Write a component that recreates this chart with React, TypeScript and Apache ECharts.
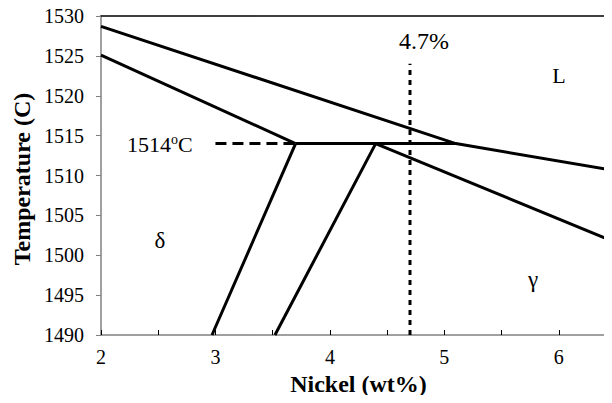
import React, { useEffect, useRef } from "react";
import * as echarts from "echarts";

// Phase boundary lines: [Nickel wt%, Temperature C]
const liquidusL: [number, number][] = [[2, 1528.7], [5.1, 1514], [6.5, 1510.6]];
const deltaLiquidus: [number, number][] = [[2, 1525.1], [3.7, 1514]];
const peritectic: [number, number][] = [[3.7, 1514], [5.1, 1514]];
const deltaSolvus: [number, number][] = [[2.97, 1490], [3.7, 1514]];
const gammaSolvus: [number, number][] = [[3.52, 1490], [4.4, 1514]];
const gammaSolidus: [number, number][] = [[4.4, 1514], [6.5, 1501.6]];
const tempGuide: [number, number][] = [[3.0, 1514], [3.7, 1514]];
const compGuide: [number, number][] = [[4.7, 1490], [4.7, 1524]];

const xTicks = [2, 3, 4, 5, 6];
const FONT = "'Liberation Serif', 'Times New Roman', serif";

export default function App() {
  const ref = useRef<HTMLDivElement>(null);
  useEffect(() => {
    if (!ref.current) return;
    const chart = echarts.init(ref.current, null, { renderer: "svg" });
    const solid = (data: [number, number][]) => ({
      type: "line",
      data,
      symbol: "none",
      lineStyle: { color: "#000", width: 3 },
      silent: true,
    });
    const label = (text: string, x: number, y: number, size: number) => ({
      type: "text",
      x,
      y,
      style: { text, fontFamily: FONT, fontSize: size, fill: "#000", align: "center", verticalAlign: "middle" },
    });
    chart.setOption({
      animation: false,
      grid: { left: 101, top: 16, bottom: 68, right: -4, outerBoundsMode: "none" },
      xAxis: [
        {
          type: "value",
          min: 2,
          max: 6.5,
          interval: 0.5,
          name: "Nickel (wt%)",
          nameLocation: "middle",
          nameGap: 36,
          nameTextStyle: { fontFamily: FONT, fontWeight: "bold", fontSize: 24, color: "#000" },
          axisLine: { lineStyle: { color: "#808080", width: 1.5 } },
          axisTick: { inside: true, length: 5, lineStyle: { color: "#000" } },
          axisLabel: {
            fontFamily: FONT,
            fontSize: 20,
            color: "#000",
            margin: 12,
            formatter: (v: number) => (xTicks.includes(v) ? String(v) : ""),
          },
          splitLine: { show: false },
        },
        {
          type: "value",
          position: "top",
          min: 2,
          max: 6.5,
          axisLine: { show: true, lineStyle: { color: "#000", width: 1.5 } },
          axisTick: { show: false },
          axisLabel: { show: false },
          splitLine: { show: false },
        },
      ],
      yAxis: {
        type: "value",
        min: 1490,
        max: 1530,
        interval: 5,
        axisLine: { show: true, lineStyle: { color: "#808080", width: 1.5 } },
        axisTick: { show: true, length: 5, lineStyle: { color: "#808080" } },
        axisLabel: { fontFamily: FONT, fontSize: 20, color: "#000", margin: 17, formatter: (v: number) => String(v) },
        splitLine: { show: false },
      },
      series: [
        solid(liquidusL),
        solid(deltaLiquidus),
        solid(peritectic),
        solid(deltaSolvus),
        solid(gammaSolvus),
        solid(gammaSolidus),
        {
          type: "line",
          data: tempGuide,
          symbol: "none",
          silent: true,
          lineStyle: { color: "#000", width: 3, type: [11, 6] },
        },
        {
          type: "line",
          data: compGuide,
          symbol: "none",
          silent: true,
          lineStyle: { color: "#000", width: 3, type: [5, 5] },
        },
      ],
      graphic: [
        {
          type: "text",
          x: 22,
          y: 179,
          rotation: Math.PI / 2,
          style: {
            text: "Temperature (C)",
            fontFamily: FONT,
            fontWeight: "bold",
            fontSize: 24,
            fill: "#000",
            align: "center",
            verticalAlign: "middle",
          },
        },
        label("4.7%", 424, 41, 24),
        label("L", 559, 75, 22),
        label("δ", 160, 240, 23),
        label("γ", 533, 279, 23),
        {
          type: "text",
          x: 127,
          y: 144,
          style: {
            text: "{a|1514}{b|o}{a|C}",
            fontFamily: FONT,
            fill: "#000",
            verticalAlign: "middle",
            rich: {
              a: { fontFamily: FONT, fontSize: 22, fill: "#000", verticalAlign: "bottom" },
              b: { fontFamily: FONT, fontSize: 14, fill: "#000", verticalAlign: "top", padding: [0, 0, 9, 0] },
            },
          },
        },
      ],
    });
    return () => chart.dispose();
  }, []);
  return <div ref={ref} style={{ width: 612, height: 403, margin: -8 }} />;
}
